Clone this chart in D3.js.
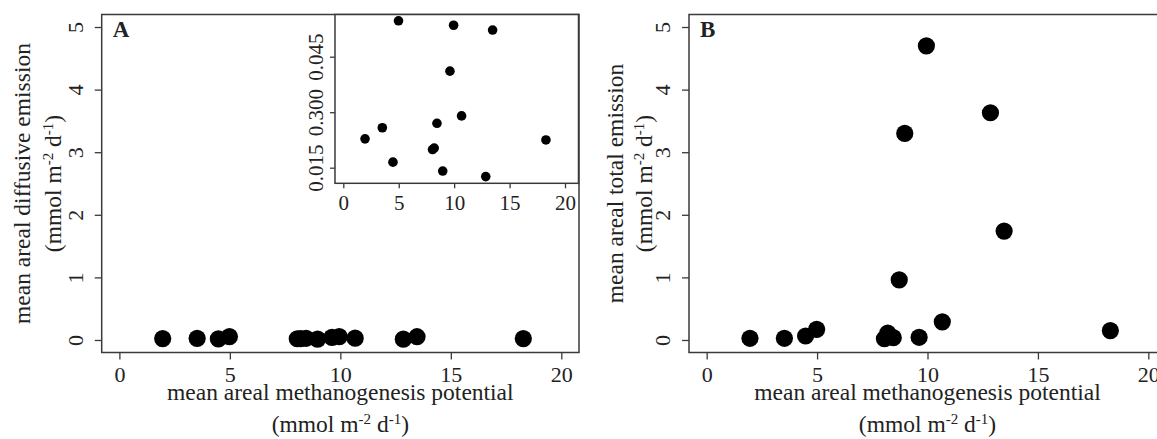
<!DOCTYPE html>
<html>
<head>
<meta charset="utf-8">
<script src="https://cdn.jsdelivr.net/npm/d3@7"></script>
<style>
  body { margin: 0; background: #fff; }
  text { font-family: "Liberation Serif", "Times New Roman", serif; fill: #222; }
</style>
</head>
<body>
<div class="chart"></div>
<script>
// values
let potA = [1.96, 3.52, 4.48, 4.98, 8.05, 8.2, 8.45, 8.97, 9.62, 9.95, 10.67, 12.85, 13.47, 18.28];
let diffusive = [0.0228, 0.0258, 0.0165, 0.0547, 0.0199, 0.0203, 0.027, 0.0141, 0.0411, 0.0535, 0.029, 0.0126, 0.0522, 0.0225];

let potB = [1.96, 3.52, 4.48, 4.98, 8.05, 8.2, 8.45, 8.72, 8.97, 9.62, 9.95, 10.67, 12.85, 13.47, 18.28];
let total = [0.027, 0.027, 0.064, 0.17, 0.02, 0.11, 0.037, 0.96, 3.3, 0.043, 4.7, 0.29, 3.63, 1.74, 0.15];

let xTicks = [0, 5, 10, 15, 20];
let yTicks = [0, 1, 2, 3, 4, 5];
let insetYTicks = [0.015, 0.03, 0.045];
let insetYLabels = ["0.015", "0.300", "0.045"];

let width = 1157;
let height = 439;

let svg = d3
  .select(".chart")
  .append("svg")
  .attr("width", width)
  .attr("height", height);

let frameColor = "#3a3a3a";
let tickFont = "22px";
let titleFont = "23.5px";

function panel(opts) {
  let g = svg.append("g");
  let x = d3.scaleLinear().domain([-0.8, 20.8]).range([opts.left, opts.right]);
  let y = d3.scaleLinear().domain([-0.2, 5.2]).range([352.5, 14.5]);

  // x axis
  let xAxis = d3.axisBottom(x).tickValues(xTicks).tickFormat(d3.format("d"))
    .tickSize(7).tickSizeOuter(0).tickPadding(7);
  let gx = g.append("g").attr("transform", `translate(0, ${y.range()[0]})`).call(xAxis);
  gx.select(".domain").remove();
  gx.selectAll("line").attr("stroke", frameColor).attr("stroke-width", 1.3);
  gx.selectAll("text").style("font-size", tickFont).attr("fill", "#222");

  // y axis, labels turned like R's default
  let yAxis = d3.axisLeft(y).tickValues(yTicks).tickFormat(d3.format("d"))
    .tickSize(7).tickSizeOuter(0);
  let gy = g.append("g").attr("transform", `translate(${opts.left}, 0)`).call(yAxis);
  gy.select(".domain").remove();
  gy.selectAll("line").attr("stroke", frameColor).attr("stroke-width", 1.3);
  gy.selectAll("text")
    .style("font-size", tickFont)
    .attr("fill", "#222")
    .attr("x", 0)
    .attr("dy", null)
    .attr("y", -19)
    .attr("text-anchor", "middle")
    .attr("transform", "rotate(-90)");

  // box
  g.append("rect")
    .attr("x", opts.left)
    .attr("y", y.range()[1])
    .attr("width", opts.right - opts.left)
    .attr("height", y.range()[0] - y.range()[1])
    .attr("fill", "none")
    .attr("stroke", frameColor)
    .attr("stroke-width", 1.5);

  // points
  g.selectAll("circle.pt")
    .data(opts.xs.map((d, i) => [d, opts.ys[i]]))
    .enter()
    .append("circle")
    .attr("class", "pt")
    .attr("cx", (d) => x(d[0]))
    .attr("cy", (d) => y(d[1]))
    .attr("r", 8.6)
    .attr("fill", "#000");

  // panel letter
  g.append("text")
    .attr("x", opts.left + 11)
    .attr("y", 37)
    .style("font-size", "23px")
    .style("font-weight", "bold")
    .attr("fill", "#111")
    .text(opts.letter);

  // x title
  let cx = (opts.left + opts.right) / 2;
  g.append("text").attr("x", cx).attr("y", 400).attr("text-anchor", "middle")
    .style("font-size", titleFont).text("mean areal methanogenesis potential");
  let t2 = g.append("text").attr("x", cx).attr("y", 432).attr("text-anchor", "middle")
    .style("font-size", titleFont);
  unitText(t2);

  // y title
  let cy = (y.range()[0] + y.range()[1]) / 2;
  g.append("text")
    .attr("transform", `translate(${opts.left - opts.t1}, ${cy}) rotate(-90)`)
    .attr("text-anchor", "middle")
    .style("font-size", titleFont)
    .text(opts.ytitle);
  let t3 = g.append("text")
    .attr("transform", `translate(${opts.left - opts.t2}, ${cy}) rotate(-90)`)
    .attr("text-anchor", "middle")
    .style("font-size", titleFont);
  unitText(t3);

  return { x, y };
}

function unitText(t) {
  t.append("tspan").text("(mmol m");
  t.append("tspan").attr("dy", -8).style("font-size", "15px").text("-2");
  t.append("tspan").attr("dy", 8).text(" d");
  t.append("tspan").attr("dy", -8).style("font-size", "15px").text("-1");
  t.append("tspan").attr("dy", 8).text(")");
}

panel({ left: 101.7, right: 579, xs: potA, ys: diffusive, letter: "A", ytitle: "mean areal diffusive emission", t1: 72, t2: 41 });
panel({ left: 689, right: 1166, xs: potB, ys: total, letter: "B", ytitle: "mean areal total emission", t1: 66, t2: 37 });

// inset of panel A (zoomed y)
let ix = d3.scaleLinear().domain([0, 20]).range([343.3, 565]);
let iy = d3.scaleLinear().domain([0.015, 0.045]).range([167.7, 56.7]);
let inset = svg.append("g");
let iLeft = ix(-0.75), iRight = 578.5, iTop = 14.5, iBottom = 183.3;

inset.append("rect")
  .attr("x", iLeft)
  .attr("y", iTop)
  .attr("width", iRight - iLeft)
  .attr("height", iBottom - iTop)
  .attr("fill", "#fff")
  .attr("stroke", frameColor)
  .attr("stroke-width", 1.5);

let ixAxis = d3.axisBottom(ix).tickValues(xTicks).tickFormat(d3.format("d"))
  .tickSize(5).tickSizeOuter(0).tickPadding(7);
let gix = inset.append("g").attr("transform", `translate(0, ${iBottom})`).call(ixAxis);
gix.select(".domain").remove();
gix.selectAll("line").attr("stroke", frameColor).attr("stroke-width", 1.3);
gix.selectAll("text").style("font-size", "21px").attr("fill", "#222");

let iyAxis = d3.axisLeft(iy)
  .tickValues(insetYTicks)
  .tickFormat((d, i) => insetYLabels[i])
  .tickSize(5)
  .tickSizeOuter(0);
let giy = inset.append("g").attr("transform", `translate(${iLeft}, 0)`).call(iyAxis);
giy.select(".domain").remove();
giy.selectAll("line").attr("stroke", frameColor).attr("stroke-width", 1.3);
giy.selectAll("text")
  .style("font-size", "21px")
  .attr("fill", "#222")
  .attr("x", 0)
  .attr("dy", null)
  .attr("y", -12)
  .attr("text-anchor", "middle")
  .attr("transform", "rotate(-90)");

inset.selectAll("circle")
  .data(potA.map((d, i) => [d, diffusive[i]]))
  .enter()
  .append("circle")
  .attr("cx", (d) => ix(d[0]))
  .attr("cy", (d) => iy(d[1]))
  .attr("r", 4.8)
  .attr("fill", "#000");
</script>
</body>
</html>
